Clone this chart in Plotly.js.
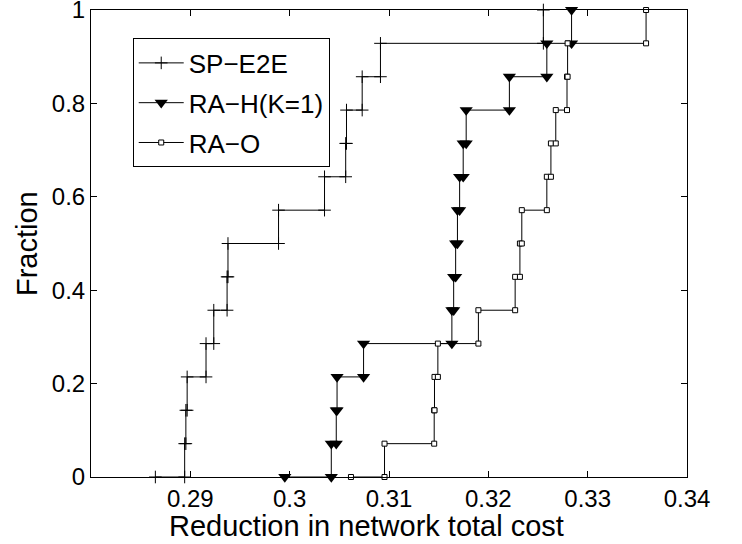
<!DOCTYPE html>
<html>
<head>
<meta charset="utf-8">
<script src="https://cdn.plot.ly/plotly-3.0.1.min.js"></script>
<style>
  html, body { margin: 0; padding: 0; background: #ffffff; }
  #chart { width: 742px; height: 544px; }
</style>
</head>
<body>
<div id="chart"></div>
<script>
// CDF levels shared by all three series (14 runs)
const fractionLevels = [0, 0.0714, 0.1429, 0.2143, 0.2857, 0.3571, 0.4286, 0.5,
                        0.5714, 0.6429, 0.7143, 0.7857, 0.8571, 0.9286, 1];

// Sorted cost reductions per scheme; the "start" value opens the zero level
const spE2eStart = 0.28648;
const spE2eValues = [0.28943, 0.28955, 0.28968, 0.29158, 0.29236, 0.29370, 0.29379,
                     0.29888, 0.30351, 0.30564, 0.30572, 0.30730, 0.30914, 0.32554];

const raHStart = 0.29951;
const raHValues = [0.30419, 0.30469, 0.30477, 0.30744, 0.31633, 0.31651, 0.31671,
                   0.31689, 0.31711, 0.31747, 0.31777, 0.32212, 0.32589, 0.32838];

const raOStart = 0.30617;
const raOValues = [0.30955, 0.31455, 0.31458, 0.31492, 0.31900, 0.32270, 0.32318,
                   0.32337, 0.32589, 0.32630, 0.32679, 0.32792, 0.32798, 0.33588];

const seriesNames = ['SP\u2212E2E', 'RA\u2212H(K=1)', 'RA\u2212O'];

const xTickVals = [0.29, 0.30, 0.31, 0.32, 0.33, 0.34];
const xTickText = ['0.29', '0.3', '0.31', '0.32', '0.33', '0.34'];
const yTickVals = [0, 0.2, 0.4, 0.6, 0.8, 1];
const yTickText = ['0', '0.2', '0.4', '0.6', '0.8', '1'];

const xTitle = 'Reduction in network total cost';
const yTitle = 'Fraction';

// Expand sorted samples into every corner of the staircase so each vertex gets a marker
function staircase(start, values, levels) {
  const xs = [start], ys = [levels[0]];
  values.forEach(function (v, i) {
    xs.push(v); ys.push(levels[i]);
    xs.push(v); ys.push(levels[i + 1]);
  });
  return { x: xs, y: ys };
}

const sp = staircase(spE2eStart, spE2eValues, fractionLevels);
const rh = staircase(raHStart, raHValues, fractionLevels);
const ro = staircase(raOStart, raOValues, fractionLevels);

const traces = [
  {
    x: sp.x, y: sp.y, name: seriesNames[0], legendgroup: 'a',
    type: 'scatter', mode: 'lines+markers', cliponaxis: false,
    line: { color: '#000000', width: 1 },
    marker: { symbol: 'cross-thin-open', size: 9, color: '#000000',
              line: { color: '#000000', width: 1 } }
  },
  {
    x: rh.x, y: rh.y, name: seriesNames[1], legendgroup: 'b',
    type: 'scatter', mode: 'lines+markers', cliponaxis: false,
    line: { color: '#000000', width: 1 },
    marker: { symbol: 'triangle-down', size: 11.5, color: '#000000',
              line: { color: '#000000', width: 0 } }
  },
  {
    x: ro.x, y: ro.y, name: seriesNames[2], legendgroup: 'c',
    type: 'scatter', mode: 'lines+markers', cliponaxis: false,
    line: { color: '#000000', width: 1 },
    marker: { symbol: 'square', size: 5, color: '#ffffff',
              line: { color: '#000000', width: 1 } }
  }
];

const baseFont = 'Liberation Sans, Arial, Helvetica, sans-serif';

const layout = {
  width: 742, height: 544,
  margin: { l: 91, r: 55, t: 10, b: 67 },
  paper_bgcolor: '#ffffff', plot_bgcolor: '#ffffff',
  font: { family: baseFont, color: '#000000', size: 24 },
  showlegend: true,
  legend: {
    x: 0.07, y: 0.939, xanchor: 'left', yanchor: 'top',
    bgcolor: '#ffffff', bordercolor: '#000000', borderwidth: 1,
    font: { family: baseFont, size: 26, color: '#000000' },
    itemwidth: 45, traceorder: 'grouped', tracegroupgap: 3
  },
  xaxis: {
    range: [0.28, 0.34], tickvals: xTickVals, ticktext: xTickText,
    ticks: 'inside', ticklen: 6, tickcolor: '#000000', tickwidth: 1,
    showline: true, linecolor: '#000000', linewidth: 1, mirror: 'ticks',
    showgrid: false, zeroline: false,
    tickfont: { family: baseFont, size: 24, color: '#000000' }
  },
  yaxis: {
    range: [0, 1], tickvals: yTickVals, ticktext: yTickText,
    ticks: 'inside', ticklen: 6, tickcolor: '#000000', tickwidth: 1,
    showline: true, linecolor: '#000000', linewidth: 1, mirror: 'ticks',
    showgrid: false, zeroline: false, ticklabeloverflow: 'allow',
    tickfont: { family: baseFont, size: 24, color: '#000000' }
  },
  annotations: [
    { text: xTitle, xref: 'paper', yref: 'paper', x: 0.463, y: -0.1435,
      xanchor: 'center', yanchor: 'bottom', showarrow: false,
      font: { family: baseFont, size: 29, color: '#000000' } },
    { text: yTitle, xref: 'paper', yref: 'paper', x: -0.078, y: 0.5, textangle: -90,
      xanchor: 'right', yanchor: 'middle', showarrow: false,
      font: { family: baseFont, size: 29, color: '#000000' } }
  ]
};

Plotly.newPlot('chart', traces, layout, { displayModeBar: false, staticPlot: true });
</script>
</body>
</html>
